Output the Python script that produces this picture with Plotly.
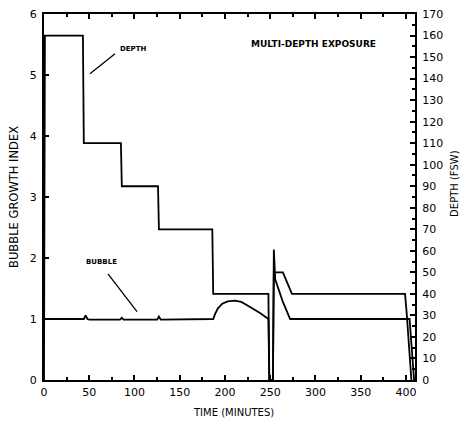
import plotly.graph_objects as go

# ---- data ----
depth_time = [0, 1, 43, 44, 85, 86, 126, 127, 186, 187, 248, 249, 253, 254, 264, 274, 399, 401, 406]
depth_fsw = [0, 160, 160, 110, 110, 90, 90, 70, 70, 40, 40, 0, 0, 50, 50, 40, 40, 30, 0]

bubble_time = [0, 44, 46, 48, 50, 84, 86, 88, 125, 127, 129, 186, 187, 189, 192, 197, 203, 211, 218, 224,
               231, 238.7, 248, 249, 253, 254, 255.5, 264, 272, 404, 409]
bubble_index = [1.0, 1.0, 1.06, 1.0, 0.99, 0.99, 1.02, 0.99, 0.99, 1.04, 0.99, 0.99, 1.0, 1.08, 1.17, 1.25,
                1.29, 1.30, 1.28, 1.23, 1.17, 1.10, 1.0, 0.0, 0.0, 2.14, 1.65, 1.28, 1.0, 1.0, 0.0]

x_ticks = [0, 50, 100, 150, 200, 250, 300, 350, 400]
left_ticks = [0, 1, 2, 3, 4, 5, 6]
right_ticks = list(range(0, 171, 10))

FONT = "DejaVu Sans"

fig = go.Figure()
fig.add_trace(go.Scatter(x=bubble_time, y=bubble_index, mode="lines",
                         line=dict(color="black", width=1.8), yaxis="y", showlegend=False))
fig.add_trace(go.Scatter(x=depth_time, y=depth_fsw, mode="lines",
                         line=dict(color="black", width=1.8), yaxis="y2", showlegend=False))

axis_common = dict(showgrid=False, zeroline=False, linecolor="black", linewidth=2,
                   ticks="inside", tickcolor="black", tickwidth=1.5, ticklen=5,
                   tickfont=dict(family=FONT, size=11, color="black"))

fig.update_layout(
    width=462, height=421,
    margin=dict(l=44, r=47, t=14, b=41, autoexpand=False),
    paper_bgcolor="white", plot_bgcolor="white",
    xaxis=dict(range=[0, 410], tickvals=x_ticks, showline=True, mirror="ticks",
               minor=dict(dtick=25, ticks="inside", ticklen=3, tickcolor="black"),
               ticklabelstandoff=1, automargin=False, **axis_common),
    yaxis=dict(range=[0, 6], tickvals=left_ticks, showline=True, mirror=False,
               ticklabelstandoff=3, automargin=False, **axis_common),
    yaxis2=dict(range=[0, 170], tickvals=right_ticks, overlaying="y", side="right", showline=True,
                minor=dict(dtick=5, ticks="inside", ticklen=3, tickcolor="black"),
                ticklabelstandoff=3, automargin=False, **axis_common),
)

fig.add_annotation(text="BUBBLE GROWTH INDEX", xref="paper", yref="paper", x=-0.081, y=0.5,
                   xanchor="center", yanchor="middle",
                   textangle=-90, showarrow=False, font=dict(family=FONT, size=11.5, color="black"))
fig.add_annotation(text="DEPTH (FSW)", xref="paper", yref="paper", x=1.108, y=0.536,
                   xanchor="center", yanchor="middle",
                   textangle=-90, showarrow=False, font=dict(family=FONT, size=10, color="black"))
fig.add_annotation(text="TIME (MINUTES)", xref="paper", yref="paper", x=0.512, y=-0.09,
                   xanchor="center", yanchor="middle",
                   showarrow=False, font=dict(family=FONT, size=10, color="black"))
fig.add_annotation(text="<b>MULTI-DEPTH EXPOSURE</b>", xref="x", yref="y", x=298, y=5.51,
                   showarrow=False, font=dict(family=FONT, size=9, color="black"))
fig.add_annotation(text="<b>DEPTH</b>", xref="x", yref="y", x=98, y=5.42,
                   showarrow=False, font=dict(family=FONT, size=7, color="black"))
fig.add_annotation(text="<b>BUBBLE</b>", xref="x", yref="y", x=63, y=1.93,
                   showarrow=False, font=dict(family=FONT, size=7, color="black"))

fig.add_shape(type="line", xref="x", yref="y", x0=78.5, y0=5.35, x1=50.8, y1=5.02,
              line=dict(color="black", width=1.3))
fig.add_shape(type="line", xref="x", yref="y", x0=70.7, y0=1.74, x1=102.8, y1=1.12,
              line=dict(color="black", width=1.3))

fig.write_html("out.html", config={"displayModeBar": False},
               post_script="document.body.style.margin='0';")
